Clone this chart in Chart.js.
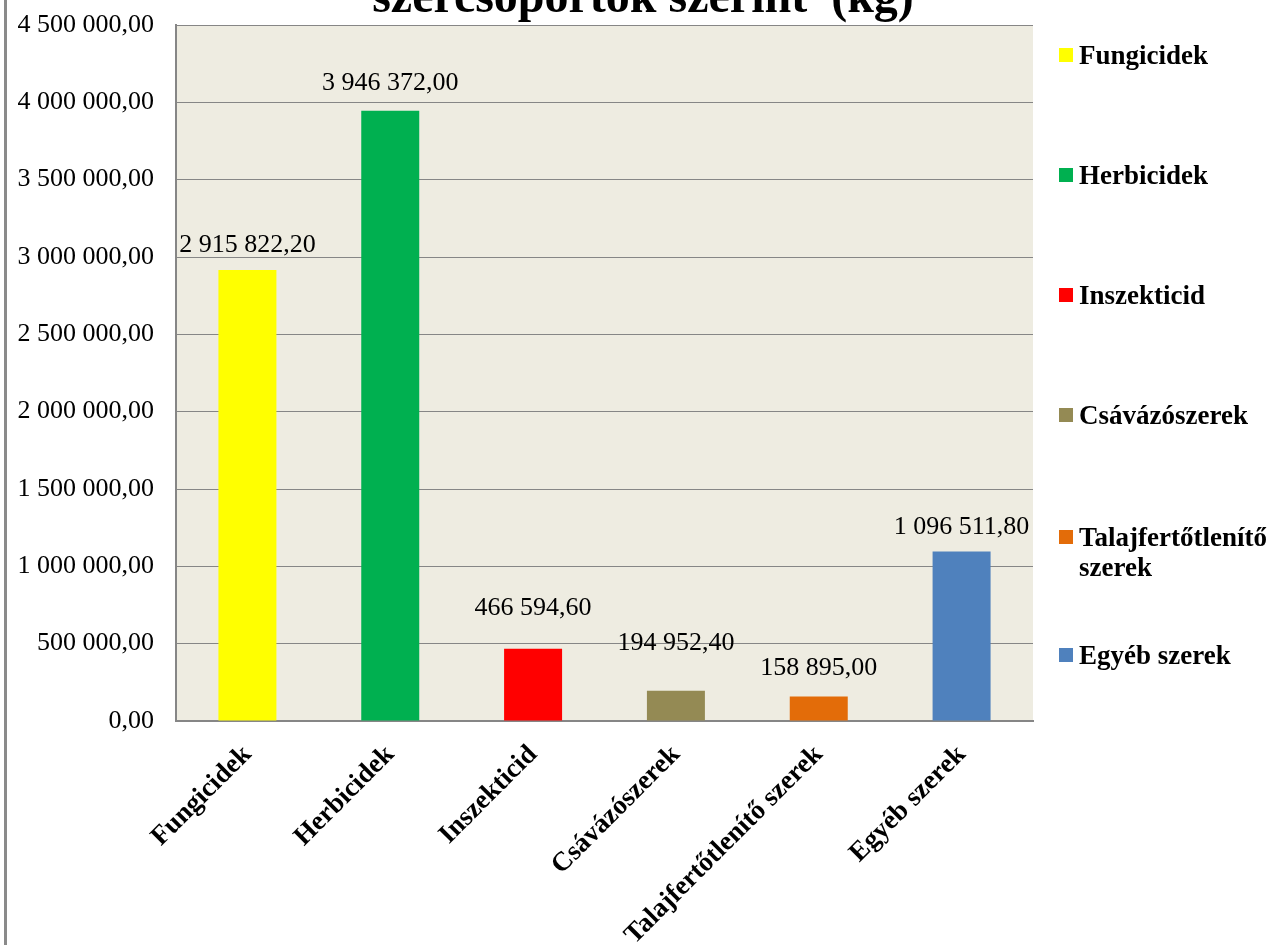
<!DOCTYPE html>
<html><head><meta charset="utf-8">
<script src="https://cdn.jsdelivr.net/npm/chart.js@4.4.1/dist/chart.umd.min.js"></script>
<style>
html,body{margin:0;padding:0;background:#fff;}
#wrap{position:relative;width:1274px;height:945px;overflow:hidden;background:#fff;}
#leftbar{position:absolute;left:4px;top:0;width:3px;height:945px;background:#8a8a8a;}
#title{position:absolute;left:6px;width:1274px;top:-28px;text-align:center;font:bold 48px 'Liberation Serif',serif;line-height:48px;white-space:pre;color:#000;}
#c{position:absolute;left:0;top:0;}
.lg{position:absolute;left:1059px;width:214px;font:bold 27px 'Liberation Serif',serif;line-height:30px;color:#000;}
.lg .sw{position:absolute;left:0;top:8px;width:14px;height:14px;}
.lg .tx{position:absolute;left:20px;width:195px;}
</style></head>
<body>
<div id="wrap">
  <canvas id="c" width="1274" height="945"></canvas>
  <div id="leftbar"></div>
  <div id="title">szercsoportok szerint  (kg)</div>
  <div id="legend"></div>
</div>
<script>
const categories = ['Fungicidek','Herbicidek','Inszekticid','Csávázószerek','Talajfertőtlenítő szerek','Egyéb szerek'];
const values = [2915822.20, 3946372.00, 466594.60, 194952.40, 158895.00, 1096511.80];
const barColors = ['#FFFF00','#00B050','#FF0000','#948A54','#E36C09','#4F81BD'];
const yMin = 0, yMax = 4500000, yStep = 500000;

// style-only settings
const labelLift = [25, 27, 41, 48, 28, 24];
const legendCenters = [55, 175, 295, 415, 537, 655];

function fmt(v){
  const parts = v.toFixed(2).split('.');
  return parts[0].replace(/\B(?=(\d{3})+(?!\d))/g, ' ') + ',' + parts[1];
}

// HTML legend
const lg = document.getElementById('legend');
categories.forEach((c,i)=>{
  const d = document.createElement('div');
  d.className = 'lg';
  d.style.top = (legendCenters[i]-15)+'px';
  d.innerHTML = '<span class="sw" style="background:'+barColors[i]+'"></span><span class="tx"></span>';
  d.querySelector('.tx').textContent = c;
  lg.appendChild(d);
});

const bgPlugin = {
  id:'plotBg',
  beforeDraw(chart){
    const {ctx, chartArea:a} = chart;
    ctx.save();
    ctx.fillStyle = '#EEECE1';
    ctx.fillRect(a.left, a.top, a.right-a.left, a.bottom-a.top);
    ctx.restore();
  }
};
const labelPlugin = {
  id:'valLabels',
  afterDatasetsDraw(chart){
    const ctx = chart.ctx;
    const meta = chart.getDatasetMeta(0);
    ctx.save();
    ctx.font = '26px "Liberation Serif", serif';
    ctx.fillStyle = '#000';
    ctx.textAlign = 'center';
    ctx.textBaseline = 'middle';
    meta.data.forEach((bar,i)=>{
      ctx.fillText(fmt(values[i]), bar.x, bar.y - labelLift[i]);
    });
    ctx.restore();
  }
};

new Chart(document.getElementById('c'), {
  type:'bar',
  data:{
    labels: categories,
    datasets:[{
      data: values,
      backgroundColor: barColors,
      borderWidth:0,
      barPercentage:0.406,
      categoryPercentage:1.0
    }]
  },
  options:{
    responsive:false,
    animation:false,
    devicePixelRatio:1,
    layout:{padding:{left:0, right:241, top:25, bottom:0}},
    plugins:{legend:{display:false}, tooltip:{enabled:false}, title:{display:false}},
    scales:{
      x:{
        grid:{display:false, drawTicks:false},
        border:{display:true, color:'#868686', width:2},
        ticks:{
          color:'#000',
          font:{family:'Liberation Serif', size:27, weight:'bold'},
          maxRotation:45, minRotation:45, autoSkip:false, padding:18
        },
        afterFit(s){ s.height = 224; s.paddingLeft = 0; s.paddingRight = 0; }
      },
      y:{
        min:yMin, max:yMax,
        grid:{color:'#868686', lineWidth:1, drawTicks:false},
        border:{display:true, color:'#868686', width:2},
        ticks:{
          stepSize:yStep,
          color:'#000',
          padding:22,
          font:{family:'Liberation Serif', size:26},
          callback:(v)=>fmt(v)
        },
        afterFit(s){ s.width = 176; s.paddingTop = 0; s.paddingBottom = 0; }
      }
    }
  },
  plugins:[bgPlugin, labelPlugin]
});
</script>
</body></html>
